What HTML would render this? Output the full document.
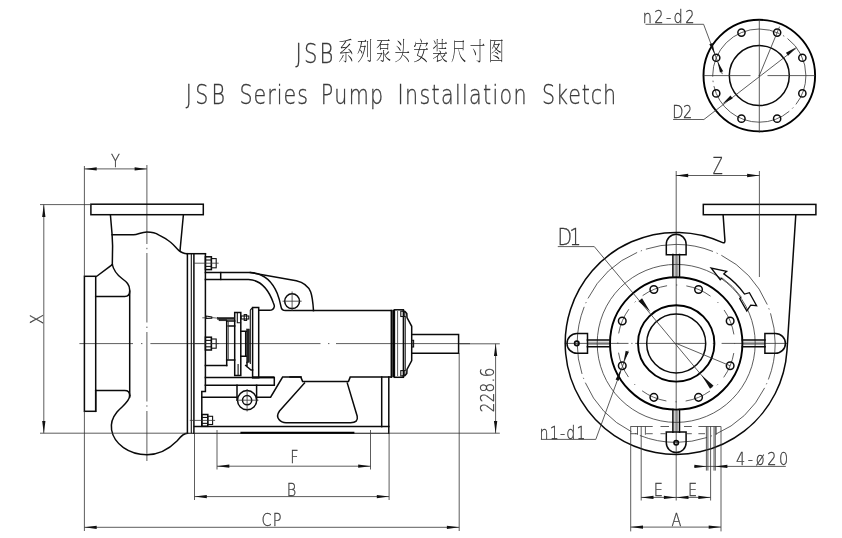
<!DOCTYPE html>
<html><head><meta charset="utf-8"><title>JSB Series Pump Installation Sketch</title>
<style>
html,body{margin:0;padding:0;background:#fff}
svg{display:block}
.k{fill:none;stroke:#0a0a0a;stroke-width:1.5;stroke-linecap:square;stroke-linejoin:miter}
.kk{fill:none;stroke:#000;stroke-width:1.9}
.m{fill:none;stroke:#111;stroke-width:1.1}
.t{fill:none;stroke:#333;stroke-width:.8}
.cl{fill:none;stroke:#333;stroke-width:.8;stroke-dasharray:52 4 1.5 4}
.hd{fill:none;stroke:#333;stroke-width:.8;stroke-dasharray:7 3}
.a{fill:#111;stroke:none}
.fill{fill:#222;stroke:#111;stroke-width:.5}
.tx{font-family:"DejaVu Sans Light","Liberation Sans",sans-serif;fill:#3a3a3a;stroke:#3a3a3a;stroke-width:.3}
.cj{font-family:"Liberation Serif","Noto Serif CJK SC","Noto Sans CJK SC",serif;font-weight:200;fill:#222}
</style></head><body>
<svg width="842" height="538" viewBox="0 0 842 538" style="filter:grayscale(1)">
<rect x="0" y="0" width="842" height="538" fill="#fff"/>
<text class="tx" transform="translate(295.5 63.4) scale(0.8 1)" x="0" y="0" font-size="26.5" textLength="47.5" lengthAdjust="spacing">JSB</text>
<text class="cj" transform="translate(338.2 60.2) scale(0.72 1.17)" x="0" y="0" font-size="21.5" textLength="230.28" lengthAdjust="spacing">系列泵头安装尺寸图</text>
<text class="tx" transform="translate(185.7 104.2) scale(0.8 1)" x="0" y="0" font-size="25.8" textLength="49.25" lengthAdjust="spacing">JSB</text>
<text class="tx" transform="translate(239.5 104.2) scale(0.8 1)" x="0" y="0" font-size="25.8" textLength="85.5" lengthAdjust="spacing">Series</text>
<text class="tx" transform="translate(320.8 104.2) scale(0.8 1)" x="0" y="0" font-size="25.8" textLength="78" lengthAdjust="spacing">Pump</text>
<text class="tx" transform="translate(397.6 104.2) scale(0.8 1)" x="0" y="0" font-size="25.8" textLength="161.25" lengthAdjust="spacing">Installation</text>
<text class="tx" transform="translate(542.1 104.2) scale(0.8 1)" x="0" y="0" font-size="25.8" textLength="92.5" lengthAdjust="spacing">Sketch</text>
<line class="t" x1="79.4" y1="343.6" x2="133" y2="343.6"/>
<line class="t" x1="141" y1="343.6" x2="142.4" y2="343.6"/>
<line class="t" x1="150.4" y1="343.6" x2="320.5" y2="343.6"/>
<line class="t" x1="328" y1="343.6" x2="329.4" y2="343.6"/>
<line class="t" x1="336" y1="343.6" x2="470" y2="343.6"/>
<line class="t" x1="146.9" y1="165" x2="146.9" y2="244"/>
<line class="t" x1="146.9" y1="247.8" x2="146.9" y2="249.2"/>
<line class="t" x1="146.9" y1="253" x2="146.9" y2="322.5"/>
<line class="t" x1="146.9" y1="326.6" x2="146.9" y2="328"/>
<line class="t" x1="146.9" y1="332" x2="146.9" y2="401.5"/>
<line class="t" x1="146.9" y1="405.3" x2="146.9" y2="406.7"/>
<line class="t" x1="146.9" y1="411" x2="146.9" y2="461"/>
<rect class="k" x="90.9" y="204.2" width="112.4" height="10.5"/>
<path class="k" d="M110.4,214.7 L112.1,234.8 L112.6,246 L112.3,264.6"/>
<path class="k" d="M112.3,264.6 L96.7,276.3"/>
<path class="k" d="M112.3,264.6 C113.5,270 118,275.5 122,278.5 C126.5,281.8 129.7,284.5 129.7,290 L129.7,397"/>
<path class="k" d="M112.1,234.8 L133.5,234.8 C138,234.8 141,232 146.9,232 C153,232 156,233 158.6,234.8 C164,237.5 168,240 170.3,242 C174,245 176,248 178.7,250.4 C181,252.5 184,253.7 187.3,253.7"/>
<path class="k" d="M183.4,214.7 L180,250.8"/>
<rect class="k" x="84.4" y="276.3" width="11.3" height="135"/>
<path class="k" d="M95.7,296.5 L124.7,296.5 Q129.7,296.5 129.7,291.3 M95.7,390.4 L124.7,390.4 Q129.7,390.4 129.7,395.6"/>
<path class="k" d="M129.7,395.6 C129.7,402 122,406 117,412 C112.5,417.5 110.6,424 111.6,430 C114,444 129,454.7 147,454.7 C160,454.7 170,448 177,441 C181,436.5 183.5,433.3 187.4,433.3"/>
<path class="k" d="M95.7,411.3 L95.7,390.4"/>
<line class="k" x1="187.4" y1="253.7" x2="187.4" y2="433.3"/>
<line class="m" x1="191.3" y1="253.7" x2="191.3" y2="433.3"/>
<line class="k" x1="193.9" y1="253.7" x2="193.9" y2="433.3"/>
<line class="k" x1="187.4" y1="253.7" x2="205.4" y2="253.7"/>
<path class="k" d="M205.4,253.7 L205.4,391.4 L201.8,391.4 L201.8,426.2"/>
<rect class="k" x="205.4" y="256.8" width="6" height="12.8"/>
<line class="m" x1="205.4" y1="260" x2="211.4" y2="260"/>
<line class="m" x1="205.4" y1="266.4" x2="211.4" y2="266.4"/>
<rect class="m" x="211.4" y="258.6" width="4.8" height="9.2"/>
<line class="t" x1="193.4" y1="263.2" x2="218.7" y2="263.2"/>
<rect class="k" x="205.4" y="337.2" width="6" height="12.8"/>
<line class="m" x1="205.4" y1="340.4" x2="211.4" y2="340.4"/>
<line class="m" x1="205.4" y1="346.8" x2="211.4" y2="346.8"/>
<rect class="m" x="211.4" y="339" width="4.8" height="9.2"/>
<line class="t" x1="193.4" y1="343.6" x2="218.7" y2="343.6"/>
<rect class="k" x="201.8" y="414.5" width="6" height="11.8"/>
<line class="m" x1="201.8" y1="417.45" x2="207.8" y2="417.45"/>
<line class="m" x1="201.8" y1="423.35" x2="207.8" y2="423.35"/>
<rect class="m" x="207.8" y="416.3" width="4.8" height="8.2"/>
<line class="t" x1="189.8" y1="420.4" x2="215.1" y2="420.4"/>
<path class="k" d="M205.4,272.6 L250.4,272.6 L296.3,280.7 C304,282.5 308.5,286.5 310.7,292 C312.5,297 313,303 313.5,310.6"/>
<path class="k" d="M250.4,272.6 C264,273 272,281 277.2,293.2 C279.5,299 280.3,303 281,306.6 Q281.6,310.6 285.5,310.6 L391.3,310.6"/>
<path class="k" d="M205.4,279.4 L248.5,279.4 C260,280 268,288 273.3,302.7 C274.3,305 274.5,306 274.3,306.6 Q273.5,310.3 269.5,310.3 L259.5,310.3"/>
<line class="k" x1="220.7" y1="272.6" x2="220.7" y2="279.4"/>
<circle class="k" cx="292.1" cy="301.2" r="7.4"/>
<line class="t" x1="282.5" y1="301.2" x2="301.7" y2="301.2"/>
<line class="t" x1="292.1" y1="291.5" x2="292.1" y2="311"/>
<path class="k" d="M290,377.1 L300.8,377.1 L302.6,381.4 L348.5,381.4 L350.2,377.1 L391.3,377.1"/>
<line class="k" x1="391.3" y1="310.6" x2="391.3" y2="377.1"/>
<line class="kk" x1="393.2" y1="309.8" x2="393.2" y2="377.3"/>
<rect class="k" x="394.4" y="309.8" width="9" height="67.5"/>
<line class="t" x1="397.6" y1="311" x2="397.6" y2="376"/>
<path class="k" d="M403.4,311.3 L405.4,312 L406.8,313.6 L407,317.5 L411.7,326.3 L411.7,360.6 L407,369.5 L406.8,373.4 L405.4,375 L403.4,375.7"/>
<line class="m" x1="405.2" y1="316" x2="405.2" y2="371"/>
<rect class="m" x="400.8" y="311.2" width="4" height="5.3"/>
<rect class="m" x="400.8" y="370.6" width="4" height="5.3"/>
<rect class="m" x="411.8" y="340.3" width="1.8" height="6.7"/>
<path class="k" d="M411.8,334.4 L458.6,334.4 L458.6,353.2 L411.8,353.2"/>
<path class="k" d="M201.8,397.2 L237,397.2 M256.6,397.2 L270.6,397.2 L282.6,377.1 L301,377.1"/>
<path class="k" d="M304.5,383.1 L279.5,411 Q276,416 279,419.5 Q281.5,422.7 286,422.7 L350.5,422.7 Q358.5,422.7 357.2,416.3 L347.3,383.1"/>
<line class="k" x1="381.7" y1="377.1" x2="381.7" y2="426.6"/>
<line class="k" x1="388.8" y1="377.1" x2="388.8" y2="433.3"/>
<path class="k" d="M194.4,426.4 L388.8,426.4"/>
<path class="m" d="M187.4,433.3 L388.8,433.3"/>
<line class="kk" x1="240.4" y1="432.8" x2="354.4" y2="432.8"/>
<path class="k" d="M205.4,377.6 L274.3,377.6 L274.3,385.2 L205.4,385.2"/>
<line class="kk" x1="252" y1="377.3" x2="274.3" y2="377.3"/>
<path class="k" d="M237,385.2 L237,400 M256.6,385.2 L256.6,400"/>
<circle class="k" cx="247.1" cy="400.2" r="9.6"/>
<circle class="k" cx="247.1" cy="400.2" r="4.6"/>
<line class="t" x1="236" y1="400.2" x2="258.5" y2="400.2"/>
<line class="t" x1="247.1" y1="389" x2="247.1" y2="411.5"/>
<line class="k" x1="226.7" y1="321" x2="226.7" y2="365.5"/>
<line class="k" x1="205.4" y1="365.5" x2="226.7" y2="365.5"/>
<path class="k" d="M226.7,321 L234.7,321 M228.2,325.9 L234.7,325.9 M226.7,360.1 L234.7,360.1"/>
<line class="t" x1="228.4" y1="321" x2="228.4" y2="360.1"/>
<path class="k" d="M234.7,312.4 L240.8,312.4 L240.8,375.4 L234.7,375.4 Z"/>
<line class="m" x1="238.1" y1="364" x2="238.1" y2="375.4"/>
<path class="m" d="M237.3,312.9 L237.3,322.8 L241.1,322.8"/>
<rect class="m" x="241.1" y="316" width="7.7" height="3"/>
<rect class="m" x="244.2" y="314.6" width="2.4" height="5.8"/>
<path class="k" d="M240.8,331.2 L247,331.2 M240.8,356.3 L247,356.3 M245.7,331.2 L245.7,356.3"/>
<rect class="fill" x="246.7" y="329" width="2.7" height="33.4"/>
<path class="k" d="M252.6,307.6 L258.7,307.6 L258.7,377.7 L252.6,377.7 Z"/>
<path class="m" d="M250.3,310 L252.6,307.6 M250.3,310 L250.3,364"/>
<path class="k" d="M245.7,365.5 L251,370 L252.6,370 M247,362.4 L247,366.6"/>
<line class="t" x1="202.3" y1="317.8" x2="206" y2="317.8"/>
<path class="m" d="M206,316 L211.8,317 L211.8,318.2 L206,318.4 Z"/>
<line class="t" x1="211.8" y1="317.6" x2="218" y2="318.2"/>
<rect class="fill" x="217.5" y="317.5" width="17.2" height="1.8"/>
<rect class="fill" x="219" y="319.6" width="7.7" height="1.2"/>
<line class="t" x1="84.4" y1="166" x2="84.4" y2="276.3"/>
<line class="t" x1="84.4" y1="411.3" x2="84.4" y2="531"/>
<line class="t" x1="84.4" y1="168.9" x2="146.9" y2="168.9"/>
<polygon class="a" points="84.4,168.9 96.7,167.25 96.7,170.55"/>
<polygon class="a" points="146.9,168.9 134.6,170.55 134.6,167.25"/>
<text class="tx" transform="translate(115.4 167.2) scale(0.8 1)" x="0" y="0" font-size="18.1" text-anchor="middle">Y</text>
<line class="t" x1="40" y1="204.6" x2="90.9" y2="204.6"/>
<line class="t" x1="40" y1="433.2" x2="187.4" y2="433.2"/>
<line class="t" x1="43.8" y1="204.6" x2="43.8" y2="433.2"/>
<polygon class="a" points="43.8,204.6 45.45,216.9 42.15,216.9"/>
<polygon class="a" points="43.8,433.2 42.15,420.9 45.45,420.9"/>
<text class="tx" transform="translate(42.9 319.2) rotate(-90) scale(0.8 1)" x="0" y="0" font-size="18.5" text-anchor="middle">X</text>
<line class="t" x1="217" y1="430" x2="217" y2="469.5"/>
<line class="t" x1="370.5" y1="430" x2="370.5" y2="469.5"/>
<line class="t" x1="217" y1="466.2" x2="370.5" y2="466.2"/>
<polygon class="a" points="217,466.2 229.3,464.55 229.3,467.85"/>
<polygon class="a" points="370.5,466.2 358.2,467.85 358.2,464.55"/>
<text class="tx" transform="translate(294.3 463.3) scale(0.8 1)" x="0" y="0" font-size="18.1" text-anchor="middle">F</text>
<line class="t" x1="194.5" y1="433.3" x2="194.5" y2="500"/>
<line class="t" x1="389.1" y1="433.3" x2="389.1" y2="500"/>
<line class="t" x1="194.5" y1="496.6" x2="389.1" y2="496.6"/>
<polygon class="a" points="194.5,496.6 206.8,494.95 206.8,498.25"/>
<polygon class="a" points="389.1,496.6 376.8,498.25 376.8,494.95"/>
<text class="tx" transform="translate(291.6 495.7) scale(0.8 1)" x="0" y="0" font-size="18.1" text-anchor="middle">B</text>
<line class="t" x1="459.2" y1="353.2" x2="459.2" y2="531"/>
<line class="t" x1="84.4" y1="527.3" x2="459.2" y2="527.3"/>
<polygon class="a" points="84.4,527.3 96.7,525.65 96.7,528.95"/>
<polygon class="a" points="459.2,527.3 446.9,528.95 446.9,525.65"/>
<text class="tx" transform="translate(261.4 526.3) scale(0.8 1)" x="0" y="0" font-size="18.1" textLength="25" lengthAdjust="spacing">CP</text>
<line class="t" x1="459.2" y1="343.8" x2="499.8" y2="343.8"/>
<line class="t" x1="388.8" y1="433.2" x2="499.8" y2="433.2"/>
<line class="t" x1="495.6" y1="343.8" x2="495.6" y2="433.2"/>
<polygon class="a" points="495.6,343.8 497.25,356.1 493.95,356.1"/>
<polygon class="a" points="495.6,433.2 493.95,420.9 497.25,420.9"/>
<text class="tx" transform="translate(493.8 412.2) rotate(-90) scale(0.8 1)" x="0" y="0" font-size="18.8" textLength="55.5" lengthAdjust="spacing">228.6</text>
<line class="t" x1="676.2" y1="171" x2="676.2" y2="500.5"/>
<line class="t" x1="564.8" y1="343.4" x2="628.5" y2="343.4"/>
<line class="t" x1="631.3" y1="343.4" x2="632.5" y2="343.4"/>
<line class="t" x1="635.2" y1="343.4" x2="705.1" y2="343.4"/>
<line class="t" x1="712.8" y1="343.4" x2="714" y2="343.4"/>
<line class="t" x1="721.6" y1="343.4" x2="787.8" y2="343.4"/>
<circle class="k" cx="676.2" cy="343.4" r="29.5"/>
<circle class="kk" cx="676.2" cy="343.4" r="38.2"/>
<circle class="t" cx="676.2" cy="343.4" r="58.4" stroke-dasharray="26.5 9 1.3 9.07" stroke-dashoffset="36.15"/>
<circle class="kk" cx="676.2" cy="343.4" r="66.2"/>
<circle class="t" cx="676.2" cy="343.4" r="79"/>
<circle class="t" cx="676.2" cy="343.4" r="99" stroke-dasharray="68.5 4 1.25 4" stroke-dashoffset="31.6"/>
<circle class="k" cx="730.15" cy="365.75" r="3.8"/>
<circle class="k" cx="698.55" cy="397.35" r="3.8"/>
<circle class="k" cx="653.85" cy="397.35" r="3.8"/>
<circle class="k" cx="622.25" cy="365.75" r="3.8"/>
<circle class="k" cx="622.25" cy="321.05" r="3.8"/>
<circle class="k" cx="653.85" cy="289.45" r="3.8"/>
<circle class="k" cx="698.55" cy="289.45" r="3.8"/>
<circle class="k" cx="730.15" cy="321.05" r="3.8"/>
<path class="k" d="M723.1,214.7 L724.9,240 Q725.2,243.6 722.7,242.61 A111.0,111.0 0 1 0 786.97,350.6 L795.8,214.7"/>
<rect class="k" x="703.3" y="204.4" width="112.6" height="10.3"/>
<g transform="translate(676.2 343.4) rotate(0)"><path class="k" d="M88.7,-9.9 L99.3,-9.9 A9.9,9.9 0 0 1 99.3,9.9 L88.7,9.9 Z"/><path class="k" d="M66.2,-3.3 L88.8,-3.3 M66.2,3.3 L88.8,3.3"/><path class="t" d="M66.2,-1.2 L88.8,-1.2 M66.2,1.2 L88.8,1.2" style="stroke-width:.5"/></g>
<g transform="translate(676.2 343.4) rotate(-90)"><path class="k" d="M88.7,-9.9 L99.3,-9.9 A9.9,9.9 0 0 1 99.3,9.9 L88.7,9.9 Z"/><path class="k" d="M66.2,-3.3 L88.8,-3.3 M66.2,3.3 L88.8,3.3"/><path class="t" d="M66.2,-1.2 L88.8,-1.2 M66.2,1.2 L88.8,1.2" style="stroke-width:.5"/></g>
<g transform="translate(676.2 343.4) rotate(180)"><path class="k" d="M88.7,-9.9 L99.3,-9.9 A9.9,9.9 0 0 1 99.3,9.9 L88.7,9.9 Z"/><path class="k" d="M66.2,-3.3 L88.8,-3.3 M66.2,3.3 L88.8,3.3"/><path class="t" d="M66.2,-1.2 L88.8,-1.2 M66.2,1.2 L88.8,1.2" style="stroke-width:.5"/><circle class="k" cx="99.4" cy="0" r="2.2" style="stroke-width:1.7"/></g>
<g transform="translate(676.2 343.4) rotate(90)"><path class="k" d="M88.7,-9.9 L99.3,-9.9 A9.9,9.9 0 0 1 99.3,9.9 L88.7,9.9 Z"/><path class="k" d="M66.2,-3.3 L88.8,-3.3 M66.2,3.3 L88.8,3.3"/><path class="t" d="M66.2,-1.2 L88.8,-1.2 M66.2,1.2 L88.8,1.2" style="stroke-width:.5"/><circle class="k" cx="99.4" cy="0" r="2.2" style="stroke-width:1.7"/></g>
<path class="k" d="M721.91,277.87 L720.2,279.7 L711.1,268 L726.7,271.3 L723.83,273.84 A84.3,84.3 0 0 1 744.57,294.09 L749.4,292.7 L756.6,305.7 L750.7,305.1 L746.8,310.9 L739.7,298.6 L741.17,296.89" style="stroke-width:1.3;stroke-linejoin:miter;stroke-linecap:butt"/>
<path class="t" d="M741.17,296.89 A79.9,79.9 0 0 0 721.91,277.87"/>
<text class="tx" transform="translate(557.4 244.8) scale(0.8 1)" x="0" y="0" font-size="23.6" textLength="29.75" lengthAdjust="spacing">D1</text>
<path class="t" d="M557.8,246.6 L594.3,246.6 L711.8,387.6"/>
<polygon class="a" points="650.4,311.9 638.52,301.23 642.05,298.29"/>
<polygon class="a" points="701.7,375.2 713.58,385.87 710.05,388.81"/>
<line class="t" x1="676.2" y1="343.4" x2="730.15" y2="365.75"/>
<text class="tx" transform="translate(539.5 438.8) scale(0.8 1)" x="0" y="0" font-size="17.8" textLength="57.5" lengthAdjust="spacing">n1-d1</text>
<path class="t" d="M540.9,439.4 L595.8,439.4 L628.2,350.7"/>
<polygon class="a" points="623.48,362.26 625.7,350.85 628.9,351.98"/>
<polygon class="a" points="621.02,369.24 618.79,380.65 615.59,379.52"/>
<path class="t" d="M630.5,426.5 L652.7,426.5 M660.5,426.5 L669,426.5 M684,426.5 L691.8,426.5 M698.4,426.5 L720.9,426.5"/>
<path class="t" d="M630.5,433.7 L637.6,433.7 M646.1,433.7 L652.7,433.7 M660.5,433.7 L665.7,433.7 M686.6,433.7 L691.8,433.7 M698.4,433.7 L705,433.7"/>
<line class="t" x1="630.7" y1="426.5" x2="630.7" y2="531.4"/>
<line class="t" x1="641.2" y1="426.5" x2="641.2" y2="500.5"/>
<line class="t" x1="710.6" y1="426.5" x2="710.6" y2="500.5"/>
<line class="t" x1="721" y1="426.5" x2="721" y2="531.4"/>
<line class="t" x1="637.5" y1="426.5" x2="637.5" y2="434.8"/>
<line class="t" x1="645.4" y1="426.5" x2="645.4" y2="434.8"/>
<line class="t" x1="716.2" y1="426.5" x2="716.2" y2="434.8"/>
<line class="t" x1="706.4" y1="426.5" x2="706.4" y2="470.6"/>
<line class="t" x1="707.9" y1="426.5" x2="707.9" y2="470.6"/>
<line class="t" x1="714" y1="426.5" x2="714" y2="470.6"/>
<line class="t" x1="715.3" y1="426.5" x2="715.3" y2="470.6"/>
<line class="t" x1="694.3" y1="466.4" x2="785.8" y2="466.4"/>
<polygon class="a" points="707,466.4 694.4,468.1 694.4,464.7"/>
<polygon class="a" points="714.6,466.4 727.4,464.7 727.4,468.1"/>
<text class="tx" transform="translate(736 464.9) scale(0.8 1)" x="0" y="0" font-size="18.1" textLength="65.25" lengthAdjust="spacing">4-ø20</text>
<line class="t" x1="641.2" y1="497.4" x2="710.6" y2="497.4"/>
<polygon class="a" points="641.2,497.4 653.5,495.75 653.5,499.05"/>
<polygon class="a" points="676.2,497.4 663.9,499.05 663.9,495.75"/>
<polygon class="a" points="676.2,497.4 688.5,495.75 688.5,499.05"/>
<polygon class="a" points="710.6,497.4 698.3,499.05 698.3,495.75"/>
<text class="tx" transform="translate(658.4 495.8) scale(0.8 1)" x="0" y="0" font-size="18.1" text-anchor="middle">E</text>
<text class="tx" transform="translate(692.6 495.8) scale(0.8 1)" x="0" y="0" font-size="18.1" text-anchor="middle">E</text>
<line class="t" x1="630.7" y1="527.1" x2="721" y2="527.1"/>
<polygon class="a" points="630.7,527.1 643,525.45 643,528.75"/>
<polygon class="a" points="721,527.1 708.7,528.75 708.7,525.45"/>
<text class="tx" transform="translate(676.5 525.5) scale(0.8 1)" x="0" y="0" font-size="18.1" text-anchor="middle">A</text>
<line class="t" x1="759.4" y1="171" x2="759.4" y2="277"/>
<line class="t" x1="675.9" y1="175.5" x2="759.4" y2="175.5"/>
<polygon class="a" points="675.9,175.5 688.2,173.85 688.2,177.15"/>
<polygon class="a" points="759.4,175.5 747.1,177.15 747.1,173.85"/>
<text class="tx" transform="translate(717.8 173.9) scale(0.62 1)" x="0" y="0" font-size="23.6" text-anchor="middle">Z</text>
<circle class="kk" cx="759.3" cy="75.6" r="55.8"/>
<circle class="k" cx="759.3" cy="75.6" r="30"/>
<circle class="t" cx="759.3" cy="75.6" r="46.6" stroke-dasharray="95 4 1.5 4" stroke-dashoffset="63.95"/>
<line class="t" x1="703.6" y1="75.6" x2="750.5" y2="75.6"/>
<line class="t" x1="758.6" y1="75.6" x2="760" y2="75.6"/>
<line class="t" x1="767.5" y1="75.6" x2="815.4" y2="75.6"/>
<line class="t" x1="759.3" y1="19.5" x2="759.3" y2="132.6"/>
<circle class="k" cx="802.35" cy="93.43" r="3.6"/>
<circle class="k" cx="777.13" cy="118.65" r="3.6"/>
<circle class="k" cx="741.47" cy="118.65" r="3.6"/>
<circle class="k" cx="716.25" cy="93.43" r="3.6"/>
<circle class="k" cx="716.25" cy="57.77" r="3.6"/>
<circle class="k" cx="741.47" cy="32.55" r="3.6"/>
<circle class="k" cx="777.13" cy="32.55" r="3.6"/>
<circle class="k" cx="802.35" cy="57.77" r="3.6"/>
<text class="tx" transform="translate(642.7 22.5) scale(0.8 1)" x="0" y="0" font-size="18.2" textLength="64.75" lengthAdjust="spacing">n2-d2</text>
<path class="t" d="M645.5,24.3 L703.6,24.3 L722.3,74.1"/>
<polygon class="a" points="714.97,54.4 709.31,44.25 712.49,43.04"/>
<polygon class="a" points="717.52,61.13 723.18,71.29 720,72.49"/>
<text class="tx" transform="translate(672.3 117.8) scale(0.8 1)" x="0" y="0" font-size="18.2" textLength="25.12" lengthAdjust="spacing">D2</text>
<path class="t" d="M673.1,119.5 L703.9,119.5 L796.4,48.1"/>
<polygon class="a" points="722.39,104.04 730.48,95.54 732.67,98.39"/>
<polygon class="a" points="796.21,47.16 788.12,55.66 785.93,52.81"/>
<line class="t" x1="759.3" y1="75.6" x2="779.58" y2="26.63"/>
</svg>
</body></html>
